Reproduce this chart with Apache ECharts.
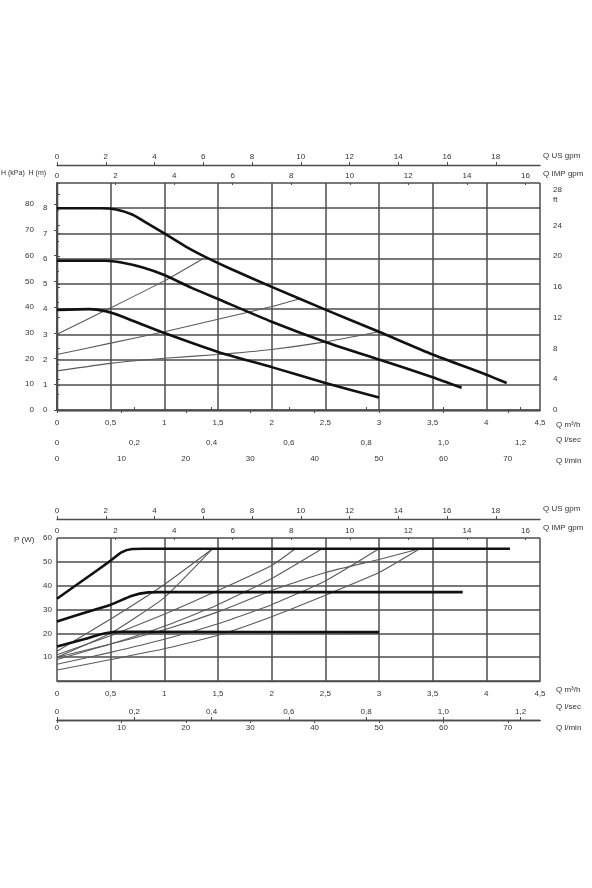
<!DOCTYPE html>
<html>
<head>
<meta charset="utf-8">
<script src="https://cdn.jsdelivr.net/npm/echarts@6/dist/echarts.min.js"></script>
<style>
html,body{margin:0;padding:0;background:#fff;}
#chart{width:592px;height:888px;}
</style>
</head>
<body>
<div id="chart"></div>
<script>
// ---- Head curves H (m) vs Q (m3/h) ----
const hSpeed3 = [[0,8.0],[0.4,8.0],[0.55,7.95],[0.7,7.75],[0.85,7.38],[1.0,7.0],[1.2,6.48],[1.4,6.03],[1.6,5.63],[2.0,4.88],[2.5,3.98],[3.0,3.1],[3.5,2.2],[4.0,1.4],[4.19,1.07]];
const hSpeed2 = [[0,5.92],[0.45,5.92],[0.6,5.85],[0.8,5.65],[1.0,5.35],[1.25,4.85],[1.5,4.4],[2.0,3.5],[2.5,2.7],[3.0,2.0],[3.5,1.3],[3.77,0.88]];
const hSpeed1 = [[0,3.97],[0.3,4.0],[0.45,3.92],[0.6,3.72],[0.8,3.38],[1.0,3.05],[1.5,2.3],[2.0,1.7],[2.5,1.07],[3.0,0.5]];
const hSys1 = [[0,3.0],[0.5,4.05],[1.0,5.12],[1.36,6.0]];
const hSys2 = [[0,2.2],[0.5,2.65],[1.0,3.1],[1.5,3.6],[2.0,4.1],[2.27,4.42]];
const hSys3 = [[0,1.55],[0.5,1.85],[1.0,2.05],[1.5,2.2],[2.0,2.4],[2.5,2.7],[3.0,3.1]];

// ---- Power curves P (W) vs Q (m3/h) ----
const pSpeed3 = [[0,34.5],[0.25,42.5],[0.5,50.5],[0.6,54.0],[0.7,55.4],[0.8,55.5],[4.22,55.5]];
const pSpeed2 = [[0,25],[0.25,28.5],[0.5,32],[0.7,35.8],[0.85,37.2],[0.95,37.3],[3.78,37.3]];
const pSpeed1 = [[0,14.5],[0.25,17.5],[0.45,20.0],[0.6,20.6],[0.75,20.6],[3.0,20.5]];
const pSys1 = [[0,12.5],[0.5,26],[1.0,40.5],[1.45,55.5]];
const pSys2 = [[0,10],[0.5,20],[1.0,35],[1.45,55.5]];
const pSys3 = [[0,11],[0.5,19],[1.0,28],[1.5,38],[2.0,48.5],[2.22,55.5]];
const pSys4 = [[0,9],[0.5,15.5],[1.0,23],[1.5,32],[2.0,43],[2.47,55.5]];
const pSys5 = [[0,7],[0.5,12],[1.0,17.5],[1.5,24],[2.0,32],[2.5,42],[3.0,55.5]];
const pSys6 = [[0,10],[0.5,15.5],[1.0,21.5],[1.5,29],[2.0,38],[2.5,45.5],[3.0,51],[3.38,55.5]];
const pSys7 = [[0,4.6],[0.5,9],[1.0,13.5],[1.5,19.2],[2.0,27],[2.5,36],[3.0,45.5],[3.38,55.5]];

// ---- Axis ranges / conversions ----
const qMax = 4.5;          // m3/h
const hMax = 9;            // m
const pMax = 60;           // W
const usGpmPerM3h = 4.40287;
const impGpmPerM3h = 3.66615;
const lsecPerM3h = 1/3.6;
const lminPerM3h = 1000/60;
const kPaPerM = 9.80665;
const ftPerM = 3.28084;

const FONT = 'Liberation Sans';
const TXT = '#333';
const GRID = '#4d4d4d';

const fmtComma = v => { const r = Math.round(v*10)/10; return String(r).replace('.', ','); };
const fmtLsec = v => v === 0 ? '0' : v.toFixed(1).replace('.', ',');
const fmtInt = v => String(Math.round(v));

function lbl(extra){ return Object.assign({fontSize:8, color:TXT, fontFamily:FONT, showMinLabel:true, showMaxLabel:true}, extra||{}); }
const axLine = {show:true, lineStyle:{color:GRID, width:1.3}};

function xAxesFor(g, gridOffBottom, gridOffTop){
  return [
    {gridIndex:g, type:'value', position:'bottom', min:0, max:qMax, interval:0.5,
     axisLine:axLine, axisTick:{show:false},
     axisLabel:lbl({margin:9, formatter:fmtComma}),
     splitLine:{show:true, lineStyle:{color:GRID, width:1.5}}},
    {gridIndex:g, type:'value', position:'bottom', offset:gridOffBottom, min:0, max:qMax*lsecPerM3h, interval:0.2,
     axisLine:axLine, axisTick:{show:true, inside:true, length:3, lineStyle:{color:GRID}},
     axisLabel:lbl({inside:true, margin:4, formatter:fmtLsec, showMaxLabel:false}),
     splitLine:{show:false}},
    {gridIndex:g, type:'value', position:'bottom', offset:gridOffBottom, min:0, max:qMax*lminPerM3h, interval:10,
     axisLine:axLine, axisTick:{show:true, length:3, lineStyle:{color:GRID}},
     axisLabel:lbl({margin:4, formatter:fmtInt, showMaxLabel:false}),
     splitLine:{show:false}},
    {gridIndex:g, type:'value', position:'top', offset:gridOffTop, min:0, max:qMax*usGpmPerM3h, interval:2,
     axisLine:axLine, axisTick:{show:true, length:3, lineStyle:{color:GRID}},
     axisLabel:lbl({margin:4, formatter:fmtInt, showMaxLabel:false}),
     splitLine:{show:false}},
    {gridIndex:g, type:'value', position:'top', offset:0, min:0, max:qMax*impGpmPerM3h, interval:2,
     axisLine:{show:false}, axisTick:{show:true, inside:true, length:2, lineStyle:{color:GRID}},
     axisLabel:lbl({margin:3, formatter:fmtInt, showMaxLabel:false}),
     splitLine:{show:false}}
  ];
}

const thick = (data, xi, yi) => ({type:'line', data, xAxisIndex:xi, yAxisIndex:yi, showSymbol:false, smooth:0.2, lineStyle:{color:'#111', width:2.6}, z:5, silent:true});
const thin = (data, xi, yi) => ({type:'line', data, xAxisIndex:xi, yAxisIndex:yi, showSymbol:false, smooth:0.15, lineStyle:{color:'#5a5a5a', width:1.1}, z:4, silent:true});

const gtext = (x, y, text, opt) => ({type:'text', left:x, top:y, style:Object.assign({text, fontSize:8, fill:TXT, fontFamily:FONT}, opt||{})});

const option = {
  backgroundColor:'#fff',
  animation:false,
  grid:[
    {left:57, top:183, width:483, height:227},
    {left:57, top:538, width:483, height:143}
  ],
  xAxis: [].concat(xAxesFor(0, 41, 18), xAxesFor(1, 39, 19)),
  yAxis: [
    {gridIndex:0, type:'value', position:'left', offset:19, min:0, max:hMax, interval:1,
     axisLine:axLine, axisTick:{show:true, inside:true, length:3, lineStyle:{color:GRID}},
     axisLabel:lbl({inside:true, margin:5, formatter:v => v === hMax ? '' : fmtInt(v)}),
     splitLine:{show:true, lineStyle:{color:GRID, width:1.5}}},
    {gridIndex:0, type:'value', position:'left', offset:19, min:0, max:hMax*kPaPerM, interval:10,
     axisLine:axLine, axisTick:{show:true, length:3, lineStyle:{color:GRID}},
     axisLabel:lbl({margin:4, formatter:fmtInt, showMaxLabel:false}),
     splitLine:{show:false}},
    {gridIndex:0, type:'value', position:'right', offset:8, min:0, max:hMax*ftPerM, interval:4,
     axisLine:{show:true, lineStyle:{color:GRID, width:1.8}},
     axisTick:{show:true, length:3, lineStyle:{color:GRID}},
     minorTick:{show:true, splitNumber:2, length:2, lineStyle:{color:GRID}},
     axisLabel:lbl({margin:5, lineHeight:10, formatter:v => Math.round(v) === 28 ? '28\nft' : fmtInt(v), showMaxLabel:false}),
     splitLine:{show:false}},
    {gridIndex:1, type:'value', position:'left', min:0, max:pMax, interval:10,
     axisLine:{show:false}, axisTick:{show:false},
     axisLabel:lbl({margin:5, formatter:v => v === 0 ? '' : fmtInt(v)}),
     splitLine:{show:true, lineStyle:{color:GRID, width:1.5}}}
  ],
  series: [
    thin(hSys1,0,0), thin(hSys2,0,0), thin(hSys3,0,0),
    thick(hSpeed3,0,0), thick(hSpeed2,0,0), thick(hSpeed1,0,0),
    thin(pSys1,5,3), thin(pSys2,5,3), thin(pSys3,5,3), thin(pSys4,5,3),
    thin(pSys5,5,3), thin(pSys6,5,3), thin(pSys7,5,3),
    thick(pSpeed3,5,3), thick(pSpeed2,5,3), thick(pSpeed1,5,3)
  ],
  graphic: [
    gtext(1, 170, 'H (kPa)  H (m)', {fontSize:7}),
    gtext(543, 152, 'Q US gpm'),
    gtext(543, 170, 'Q IMP gpm'),
    gtext(556, 421, 'Q m³/h'),
    gtext(556, 436, 'Q l/sec'),
    gtext(556, 457, 'Q l/min'),
    gtext(14, 536, 'P (W)'),
    gtext(543, 505, 'Q US gpm'),
    gtext(543, 524, 'Q IMP gpm'),
    gtext(556, 686, 'Q m³/h'),
    gtext(556, 703, 'Q l/sec'),
    gtext(556, 724, 'Q l/min')
  ]
};

const chart = echarts.init(document.getElementById('chart'), null, {renderer:'canvas'});
chart.setOption(option);
</script>
</body>
</html>
